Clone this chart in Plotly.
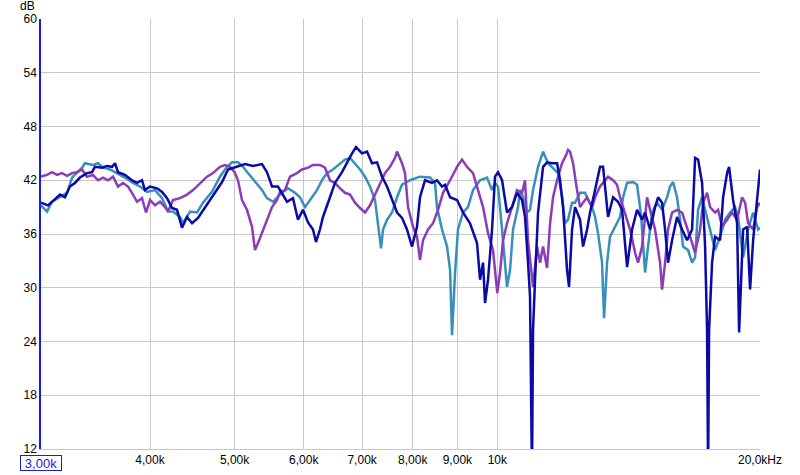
import plotly.graph_objects as go

# ---- data (frequency in Hz, level in dB) ----
navy_f = [3000, 3056, 3113, 3154, 3196, 3238, 3281, 3325, 3387, 3432, 3459, 3524, 3571, 3619, 3647, 3676, 3744, 3814, 3865, 3916, 3947, 4000, 4074, 4129, 4184, 4239, 4295, 4352, 4410, 4469, 4540, 4625, 4723, 4837, 4914, 5032, 5139, 5249, 5375, 5446, 5519, 5606, 5741, 5833, 5910, 5989, 6069, 6149, 6198, 6263, 6313, 6431, 6516, 6638, 6727, 6816, 6888, 6998, 7091, 7185, 7281, 7377, 7476, 7575, 7676, 7777, 7880, 7985, 8091, 8155, 8264, 8418, 8529, 8643, 8712, 8828, 8992, 9135, 9305, 9479, 9555, 9631, 9682, 9758, 9862, 9940, 10019, 10126, 10260, 10396, 10534, 10674, 10759, 10845, 10902, 10958, 10989, 11047, 11135, 11283, 11403, 11554, 11708, 11801, 11895, 12020, 12084, 12180, 12277, 12440, 12539, 12673, 12773, 12943, 13114, 13219, 13324, 13394, 13573, 13752, 13899, 14084, 14271, 14460, 14652, 14768, 14964, 15163, 15283, 15446, 15569, 15692, 15859, 16069, 16283, 16500, 16719, 16852, 16986, 17166, 17303, 17393, 17440, 17486, 17624, 17765, 18001, 18145, 18336, 18434, 18629, 18827, 18927, 19128, 19331, 19484, 19640, 19849, 20000]
navy_db = [39.5, 39.2, 39.9, 40.4, 40.1, 41.3, 41.7, 42.3, 42.8, 42.9, 43.5, 43.4, 43.6, 43.5, 43.9, 42.9, 42.6, 42.0, 41.7, 42.0, 40.9, 41.3, 41.1, 40.7, 40.0, 38.9, 38.7, 36.7, 37.9, 37.2, 37.8, 39.0, 40.4, 41.8, 43.2, 43.5, 43.8, 43.6, 43.8, 42.9, 41.3, 41.3, 39.6, 40.0, 37.6, 38.7, 37.3, 36.5, 35.1, 36.5, 37.9, 40.1, 41.7, 42.9, 44.0, 45.0, 45.7, 45.0, 45.2, 43.9, 44.0, 42.4, 41.3, 39.8, 38.4, 37.8, 36.5, 34.6, 36.8, 40.1, 42.0, 41.7, 42.0, 41.3, 41.5, 40.1, 39.8, 38.4, 37.2, 35.0, 30.9, 32.8, 28.3, 30.9, 36.5, 42.4, 42.9, 42.0, 38.4, 39.0, 40.6, 39.8, 37.9, 32.8, 29.0, 9.0, 25.3, 30.9, 38.4, 43.5, 44.0, 43.9, 43.9, 42.0, 39.0, 32.0, 30.1, 36.5, 39.0, 37.6, 34.6, 36.5, 38.4, 40.9, 43.5, 43.5, 40.1, 37.9, 40.1, 39.6, 38.7, 32.3, 36.5, 38.7, 37.6, 38.4, 36.5, 39.0, 40.1, 39.5, 36.5, 32.8, 35.3, 37.9, 36.5, 35.3, 36.5, 44.5, 44.3, 41.7, 34.6, 25.3, 9.0, 25.3, 32.8, 35.7, 35.3, 40.1, 42.8, 43.5, 39.8, 37.2, 25.0, 36.5, 36.8, 29.8, 35.3, 40.1, 43.2]

teal_f = [3000, 3048, 3088, 3154, 3213, 3256, 3299, 3343, 3369, 3441, 3487, 3534, 3599, 3666, 3744, 3824, 3896, 3968, 4053, 4129, 4195, 4250, 4330, 4364, 4445, 4528, 4600, 4710, 4811, 4901, 4966, 5045, 5112, 5180, 5276, 5375, 5446, 5533, 5636, 5756, 5864, 5941, 6020, 6101, 6214, 6297, 6380, 6482, 6604, 6691, 6780, 6870, 6962, 7054, 7147, 7242, 7300, 7358, 7397, 7476, 7575, 7676, 7777, 7943, 8155, 8374, 8485, 8529, 8643, 8758, 8828, 8874, 8945, 9015, 9135, 9256, 9379, 9555, 9733, 9862, 9940, 10019, 10126, 10206, 10260, 10342, 10424, 10562, 10618, 10702, 10816, 10902, 10989, 11135, 11283, 11433, 11585, 11739, 11863, 11958, 12052, 12180, 12277, 12440, 12605, 12706, 12841, 12943, 13045, 13184, 13254, 13359, 13465, 13644, 13825, 13935, 14084, 14308, 14460, 14613, 14690, 14768, 14885, 15044, 15243, 15446, 15651, 15775, 15901, 16069, 16197, 16326, 16543, 16719, 16852, 16986, 17166, 17303, 17439, 17624, 17765, 18001, 18241, 18482, 18728, 18877, 19128, 19382, 19640, 19901, 20000]
teal_db = [39.2, 38.5, 39.6, 40.1, 40.6, 42.3, 42.8, 43.4, 43.9, 43.7, 43.9, 43.4, 43.2, 42.8, 42.3, 41.7, 41.3, 40.7, 40.9, 40.0, 38.5, 38.5, 37.9, 37.2, 38.5, 38.4, 39.5, 40.7, 42.4, 43.5, 44.0, 44.0, 43.5, 42.8, 41.8, 40.9, 40.0, 39.6, 40.4, 41.1, 40.6, 40.1, 39.0, 39.8, 40.9, 42.0, 42.8, 43.2, 43.9, 44.3, 44.5, 43.9, 43.2, 42.4, 41.3, 39.8, 37.2, 34.4, 36.5, 37.6, 38.4, 40.1, 41.5, 42.0, 42.4, 42.3, 41.7, 39.0, 36.5, 34.6, 32.0, 24.7, 31.7, 36.5, 38.4, 39.0, 40.9, 42.0, 42.3, 40.9, 41.7, 41.3, 36.5, 32.8, 30.1, 32.0, 36.5, 39.0, 40.9, 40.1, 38.4, 38.7, 40.9, 43.5, 45.2, 43.9, 43.4, 42.8, 40.1, 37.2, 37.6, 39.5, 39.5, 40.6, 40.6, 39.8, 39.0, 37.9, 36.1, 32.8, 26.6, 32.8, 35.7, 36.8, 37.9, 40.1, 41.7, 41.8, 41.5, 38.1, 35.3, 31.7, 34.6, 38.4, 39.5, 38.7, 40.1, 41.3, 41.8, 40.1, 37.6, 34.6, 34.2, 32.8, 33.4, 38.7, 40.1, 38.7, 37.6, 35.7, 34.2, 35.7, 37.6, 38.4, 39.0, 37.9, 33.4, 36.5, 38.4, 36.5, 36.7]

purple_f = [3000, 3048, 3088, 3129, 3170, 3213, 3256, 3299, 3343, 3387, 3441, 3487, 3534, 3581, 3628, 3676, 3725, 3774, 3814, 3865, 3916, 3958, 4000, 4053, 4107, 4162, 4195, 4250, 4330, 4410, 4481, 4564, 4649, 4723, 4811, 4875, 4940, 5000, 5045, 5098, 5166, 5235, 5276, 5319, 5375, 5446, 5519, 5592, 5636, 5711, 5787, 5894, 5973, 6069, 6149, 6263, 6347, 6431, 6516, 6604, 6691, 6780, 6870, 6962, 7054, 7147, 7242, 7339, 7436, 7535, 7635, 7676, 7777, 7839, 7901, 8006, 8091, 8155, 8220, 8330, 8441, 8552, 8666, 8828, 8992, 9111, 9232, 9379, 9504, 9631, 9758, 9888, 10000, 10072, 10153, 10260, 10396, 10534, 10674, 10759, 10845, 10989, 11106, 11194, 11283, 11403, 11494, 11585, 11708, 11863, 11989, 12052, 12116, 12212, 12342, 12440, 12539, 12673, 12841, 12943, 13114, 13289, 13394, 13573, 13716, 13825, 14009, 14195, 14384, 14498, 14652, 14768, 14846, 14964, 15163, 15364, 15446, 15569, 15692, 15859, 16069, 16283, 16500, 16719, 16852, 17076, 17212, 17393, 17532, 17765, 17906, 18097, 18336, 18580, 18827, 19077, 19229, 19382, 19640, 19849, 20000]
purple_db = [42.4, 42.6, 42.9, 42.6, 42.8, 42.5, 42.8, 42.9, 43.2, 42.4, 42.6, 42.0, 42.3, 42.0, 42.4, 41.3, 41.7, 41.3, 40.6, 39.6, 40.0, 38.4, 39.8, 39.2, 39.6, 39.0, 38.5, 39.8, 40.0, 40.4, 40.9, 41.7, 42.4, 42.8, 43.5, 43.7, 43.5, 42.9, 42.0, 39.8, 38.7, 36.8, 34.2, 35.0, 36.1, 37.6, 39.0, 39.8, 40.7, 40.9, 42.4, 42.8, 43.2, 43.4, 43.7, 43.7, 43.4, 42.0, 41.7, 41.1, 40.6, 40.4, 39.5, 38.9, 38.4, 39.2, 40.4, 41.5, 42.8, 43.5, 44.5, 45.2, 43.9, 42.8, 39.0, 36.8, 35.7, 33.1, 35.3, 36.5, 37.2, 38.7, 40.6, 42.0, 43.5, 44.3, 43.5, 42.8, 40.9, 39.0, 36.1, 34.2, 29.4, 31.7, 35.3, 37.2, 39.0, 40.9, 40.6, 42.0, 35.3, 30.1, 34.6, 32.8, 34.6, 32.2, 37.2, 40.1, 42.0, 43.9, 44.8, 45.4, 45.2, 43.9, 40.9, 39.0, 39.5, 40.1, 39.0, 40.1, 41.3, 42.0, 42.4, 42.0, 41.5, 40.1, 38.4, 36.5, 33.9, 32.8, 34.6, 37.6, 40.1, 38.7, 36.5, 32.8, 29.8, 32.8, 36.5, 38.4, 38.7, 38.4, 36.8, 35.0, 33.9, 36.5, 39.5, 40.6, 39.0, 38.4, 38.7, 36.8, 37.6, 38.4, 37.6, 40.1, 39.5, 37.2, 36.5, 39.0, 39.5]

x_ticks = [3000, 4000, 5000, 6000, 7000, 8000, 9000, 10000, 20000]
x_tick_labels = ["", "4,00k", "5,00k", "6,00k", "7,00k", "8,00k", "9,00k", "10k", "20,0kHz"]
y_ticks = [12, 18, 24, 30, 36, 42, 48, 54, 60]

fig = go.Figure()
fig.add_trace(go.Scatter(x=teal_f, y=teal_db, mode="lines",
                         line=dict(color="#3790BB", width=2.5), showlegend=False))
fig.add_trace(go.Scatter(x=purple_f, y=purple_db, mode="lines",
                         line=dict(color="#8B3CB8", width=2.5), showlegend=False))
fig.add_trace(go.Scatter(x=navy_f, y=navy_db, mode="lines",
                         line=dict(color="#0A0AA6", width=2.5), showlegend=False))

font = dict(family="Arial, Liberation Sans, sans-serif", size=12, color="#000000")
fig.update_layout(
    width=800, height=475,
    margin=dict(l=41, r=40, t=19, b=26),
    paper_bgcolor="white", plot_bgcolor="white",
    font=font,
    xaxis=dict(type="log", range=[3.4771213, 4.30103], tickvals=x_ticks, ticktext=x_tick_labels,
               showgrid=True, gridcolor="#C8C8C8", gridwidth=1, zeroline=False, automargin=False,
               showline=True, linecolor="#C8C8C8", linewidth=1, ticks="", tickfont=font),
    yaxis=dict(range=[12, 60], tickvals=y_ticks, showgrid=True, gridcolor="#C8C8C8", gridwidth=1,
               zeroline=False, showline=True, linecolor="#1A1AE6", linewidth=1.5, ticks="",
               automargin=False, tickfont=font),
    annotations=[
        dict(text="dB", xref="paper", yref="paper", x=0, y=1, xanchor="right", yanchor="bottom",
             xshift=-4, yshift=4, showarrow=False, font=font),
        dict(text="3,00k", xref="x", yref="paper", x=3.4771213, y=0, xanchor="center", yanchor="top",
             yshift=-6, showarrow=False, width=40, height=14, borderpad=0,
             font=dict(family=font["family"], size=13, color="#1A1AE6"),
             bordercolor="#1A1AE6", borderwidth=1, bgcolor="white"),
    ],
)
fig.write_html("out.html", config={"displayModeBar": False},
               post_script="document.body.style.margin='0';")
